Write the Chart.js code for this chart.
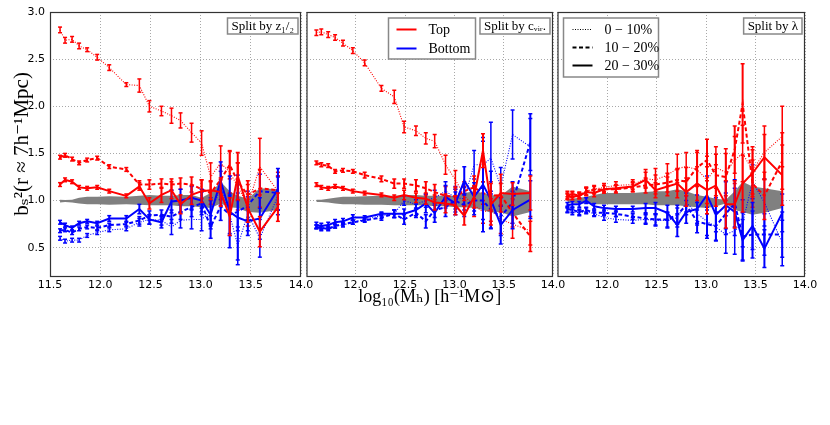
<!DOCTYPE html>
<html>
<head>
<meta charset="utf-8">
<script src="https://cdn.jsdelivr.net/npm/chart.js@4.4.0/dist/chart.umd.min.js"></script>
<style>
body { margin: 0; background: #fff; width: 830px; height: 425px; position: relative; overflow: hidden; }
canvas { position: absolute; top: 0; }
</style>
</head>
<body>
<canvas id="panel-half" width="320" height="320" style="left:0px"></canvas>
<canvas id="panel-cvir" width="273" height="320" style="left:301px"></canvas>
<canvas id="panel-spin" width="278" height="320" style="left:552px"></canvas>
<script>
// halo mass bins, log10(Mh)
const massBins = [11.60, 11.65, 11.72, 11.79, 11.87, 11.97, 12.09, 12.26, 12.39, 12.49, 12.61, 12.71, 12.80, 12.91, 13.01, 13.10, 13.20, 13.29, 13.37, 13.47, 13.59, 13.77];
const xTicks = [11.5, 12.0, 12.5, 13.0, 13.5, 14.0];
const yTicks = [0.5, 1.0, 1.5, 2.0, 2.5, 3.0];

// split by z1/2
const halfTop10 = [2.81, 2.70, 2.71, 2.64, 2.60, 2.52, 2.41, 2.23, 2.22, 2.00, 1.95, 1.90, 1.85, 1.72, 1.61, 1.25, 1.40, 1.30, 1.15, 0.95, 1.36, 1.10];
const halfTop10Err = [0.03, 0.03, 0.03, 0.03, 0.02, 0.03, 0.03, 0.02, 0.07, 0.06, 0.05, 0.08, 0.08, 0.10, 0.13, 0.15, 0.18, 0.22, 0.25, 0.22, 0.30, 0.20];
const halfTop20 = [1.46, 1.48, 1.44, 1.40, 1.43, 1.45, 1.36, 1.33, 1.17, 1.17, 1.18, 1.17, 1.18, 1.17, 1.12, 1.08, 1.22, 1.38, 1.20, 1.06, 1.13, 1.11];
const halfTop20Err = [0.02, 0.02, 0.02, 0.02, 0.02, 0.02, 0.02, 0.02, 0.04, 0.05, 0.05, 0.06, 0.06, 0.08, 0.10, 0.12, 0.15, 0.15, 0.20, 0.15, 0.20, 0.15];
const halfTop30 = [1.17, 1.22, 1.20, 1.14, 1.13, 1.14, 1.10, 1.05, 1.15, 0.97, 1.06, 1.11, 0.96, 1.06, 1.10, 1.11, 1.09, 0.83, 1.26, 0.92, 0.67, 0.93];
const halfTop30Err = [0.02, 0.02, 0.02, 0.02, 0.02, 0.02, 0.02, 0.02, 0.04, 0.06, 0.08, 0.09, 0.10, 0.10, 0.12, 0.10, 0.15, 0.20, 0.25, 0.15, 0.16, 0.15];
const halfBot10 = [0.60, 0.57, 0.58, 0.58, 0.63, 0.66, 0.69, 0.70, 0.77, 0.80, 0.79, 0.72, 0.79, 0.80, 0.80, 0.88, 1.13, 0.85, 0.52, 0.86, 0.60, 1.05];
const halfBot10Err = [0.02, 0.02, 0.02, 0.02, 0.02, 0.02, 0.02, 0.02, 0.04, 0.05, 0.05, 0.08, 0.08, 0.10, 0.12, 0.15, 0.18, 0.22, 0.20, 0.18, 0.20, 0.20];
const halfBot20 = [0.68, 0.69, 0.66, 0.70, 0.72, 0.71, 0.74, 0.75, 0.79, 0.84, 0.85, 0.83, 0.88, 0.93, 0.97, 0.72, 0.94, 0.85, 0.88, 0.95, 1.10, 1.08];
const halfBot20Err = [0.02, 0.02, 0.02, 0.02, 0.02, 0.02, 0.02, 0.02, 0.04, 0.05, 0.05, 0.07, 0.08, 0.10, 0.12, 0.12, 0.15, 0.20, 0.20, 0.15, 0.18, 0.18];
const halfBot30 = [0.77, 0.74, 0.71, 0.76, 0.78, 0.76, 0.81, 0.81, 0.91, 0.80, 0.77, 0.99, 1.00, 1.03, 1.00, 0.85, 1.21, 0.88, 0.82, 0.78, 0.81, 1.12];
const halfBot30Err = [0.02, 0.02, 0.02, 0.02, 0.02, 0.02, 0.03, 0.03, 0.05, 0.05, 0.06, 0.12, 0.12, 0.12, 0.12, 0.15, 0.20, 0.38, 0.45, 0.15, 0.22, 0.22];
const halfBandLo = [0.98, 0.985, 0.98, 0.97, 0.96, 0.96, 0.955, 0.96, 0.955, 0.95, 0.95, 0.95, 0.94, 0.94, 0.93, 0.92, 0.97, 0.93, 0.92, 0.88, 0.87, 0.90];
const halfBandHi = [1.01, 1.005, 1.01, 1.03, 1.04, 1.04, 1.045, 1.04, 1.05, 1.06, 1.05, 1.05, 1.06, 1.06, 1.03, 1.08, 1.20, 1.10, 1.05, 1.02, 1.13, 1.12];

// split by c_vir
const cvirTop10 = [2.78, 2.79, 2.76, 2.73, 2.67, 2.59, 2.46, 2.19, 2.10, 1.78, 1.74, 1.66, 1.63, 1.38, 1.22, 1.05, 0.95, 0.88, 0.90, 0.80, 0.75, 0.68];
const cvirTop10Err = [0.03, 0.03, 0.03, 0.03, 0.03, 0.03, 0.03, 0.03, 0.07, 0.06, 0.05, 0.06, 0.07, 0.10, 0.10, 0.10, 0.12, 0.12, 0.12, 0.15, 0.15, 0.15];
const cvirTop20 = [1.40, 1.38, 1.37, 1.31, 1.32, 1.31, 1.27, 1.23, 1.18, 1.18, 1.16, 1.13, 1.09, 1.05, 1.04, 1.10, 1.14, 1.08, 1.05, 1.06, 0.87, 0.62];
const cvirTop20Err = [0.02, 0.02, 0.02, 0.02, 0.02, 0.02, 0.03, 0.03, 0.05, 0.05, 0.06, 0.07, 0.08, 0.10, 0.10, 0.10, 0.12, 0.12, 0.15, 0.12, 0.15, 0.16];
const cvirTop30 = [1.17, 1.14, 1.13, 1.15, 1.13, 1.10, 1.08, 1.06, 1.03, 1.06, 1.03, 1.02, 0.98, 0.97, 0.95, 0.84, 1.04, 1.53, 0.96, 1.08, 1.07, 1.08];
const cvirTop30Err = [0.02, 0.02, 0.02, 0.02, 0.02, 0.02, 0.02, 0.02, 0.03, 0.05, 0.05, 0.06, 0.08, 0.10, 0.10, 0.10, 0.12, 0.18, 0.22, 0.20, 0.12, 0.18];
const cvirBot10 = [0.72, 0.70, 0.71, 0.73, 0.74, 0.77, 0.80, 0.84, 0.86, 1.00, 0.96, 1.00, 1.03, 1.10, 1.03, 1.02, 1.38, 1.38, 1.45, 1.15, 1.70, 1.57];
const cvirBot10Err = [0.02, 0.02, 0.02, 0.02, 0.02, 0.02, 0.02, 0.03, 0.04, 0.05, 0.05, 0.07, 0.08, 0.10, 0.12, 0.12, 0.15, 0.25, 0.38, 0.20, 0.26, 0.30];
const cvirBot20 = [0.72, 0.71, 0.70, 0.73, 0.75, 0.77, 0.79, 0.82, 0.86, 0.80, 0.87, 0.78, 0.90, 0.93, 1.00, 0.95, 1.00, 1.00, 0.90, 0.83, 0.98, 1.62];
const cvirBot20Err = [0.02, 0.02, 0.02, 0.02, 0.02, 0.02, 0.02, 0.03, 0.04, 0.05, 0.05, 0.07, 0.08, 0.10, 0.12, 0.12, 0.15, 0.20, 0.20, 0.20, 0.22, 0.30];
const cvirBot30 = [0.74, 0.73, 0.74, 0.77, 0.78, 0.82, 0.82, 0.86, 0.86, 0.86, 0.90, 0.97, 0.87, 1.04, 0.97, 1.21, 1.04, 1.17, 1.01, 0.74, 0.90, 1.01];
const cvirBot30Err = [0.03, 0.03, 0.03, 0.03, 0.03, 0.03, 0.02, 0.02, 0.04, 0.05, 0.06, 0.10, 0.10, 0.12, 0.12, 0.15, 0.15, 0.50, 0.30, 0.20, 0.20, 0.20];
const cvirBandLo = [0.985, 0.985, 0.98, 0.97, 0.96, 0.96, 0.955, 0.955, 0.95, 0.95, 0.95, 0.95, 0.94, 0.94, 0.93, 0.93, 0.92, 0.90, 0.87, 0.88, 0.83, 0.88];
const cvirBandHi = [1.01, 1.01, 1.02, 1.03, 1.04, 1.04, 1.045, 1.05, 1.05, 1.06, 1.06, 1.05, 1.05, 1.05, 1.05, 1.08, 1.10, 1.08, 1.06, 1.05, 1.15, 1.10];

// split by lambda
const spinTop10 = [1.07, 1.06, 1.06, 1.10, 1.12, 1.14, 1.16, 1.17, 1.23, 1.22, 1.27, 1.34, 1.36, 1.33, 1.22, 1.35, 1.30, 1.43, 1.50, 1.32, 1.51, 1.68];
const spinTop10Err = [0.03, 0.03, 0.03, 0.04, 0.04, 0.04, 0.04, 0.05, 0.10, 0.12, 0.12, 0.15, 0.15, 0.18, 0.25, 0.22, 0.25, 0.25, 0.30, 0.25, 0.28, 0.32];
const spinTop20 = [1.05, 1.07, 1.05, 1.10, 1.11, 1.12, 1.12, 1.14, 1.16, 1.17, 1.19, 1.22, 1.20, 1.35, 1.43, 1.27, 1.25, 1.54, 2.03, 1.18, 1.05, 1.42];
const spinTop20Err = [0.03, 0.03, 0.03, 0.04, 0.04, 0.04, 0.04, 0.05, 0.08, 0.10, 0.10, 0.12, 0.15, 0.18, 0.22, 0.22, 0.25, 0.25, 0.42, 0.25, 0.25, 0.30];
const spinTop30 = [1.04, 1.04, 1.05, 1.09, 1.08, 1.12, 1.13, 1.15, 1.22, 1.11, 1.15, 1.18, 1.09, 1.18, 1.11, 1.16, 0.96, 0.96, 1.18, 1.29, 1.46, 1.27];
const spinTop30Err = [0.03, 0.03, 0.03, 0.04, 0.04, 0.04, 0.04, 0.05, 0.08, 0.08, 0.10, 0.15, 0.15, 0.18, 0.25, 0.22, 0.25, 0.25, 0.30, 0.25, 0.24, 0.32];
const spinBot10 = [0.90, 0.88, 0.87, 0.89, 0.86, 0.82, 0.80, 0.79, 0.80, 0.79, 0.79, 0.82, 0.98, 0.86, 0.78, 0.72, 0.64, 0.68, 0.76, 1.20, 0.98, 0.55];
const spinBot10Err = [0.03, 0.03, 0.03, 0.03, 0.03, 0.03, 0.03, 0.03, 0.05, 0.06, 0.08, 0.10, 0.10, 0.12, 0.15, 0.15, 0.20, 0.25, 0.25, 0.18, 0.25, 0.24];
const spinBot20 = [0.91, 0.90, 0.88, 0.90, 0.87, 0.87, 0.86, 0.83, 0.81, 0.80, 0.80, 0.85, 0.95, 0.78, 0.75, 0.73, 0.86, 0.97, 0.62, 0.64, 0.64, 0.64];
const spinBot20Err = [0.03, 0.03, 0.03, 0.03, 0.03, 0.03, 0.03, 0.03, 0.05, 0.06, 0.08, 0.10, 0.10, 0.12, 0.15, 0.15, 0.22, 0.25, 0.25, 0.25, 0.22, 0.24];
const spinBot30 = [0.95, 0.96, 0.96, 1.00, 0.94, 0.92, 0.91, 0.91, 0.92, 0.92, 0.87, 0.74, 0.88, 0.91, 1.06, 0.85, 0.95, 0.88, 0.58, 0.73, 0.49, 0.87];
const spinBot30Err = [0.03, 0.03, 0.03, 0.03, 0.03, 0.03, 0.03, 0.03, 0.05, 0.06, 0.08, 0.12, 0.12, 0.15, 0.20, 0.18, 0.25, 0.25, 0.22, 0.25, 0.20, 0.20];
const spinBandLo = [0.97, 0.98, 0.97, 0.97, 0.96, 0.96, 0.96, 0.96, 0.96, 0.95, 0.95, 0.95, 0.94, 0.93, 0.92, 0.94, 0.97, 0.90, 0.88, 0.85, 0.87, 0.92];
const spinBandHi = [1.02, 1.02, 1.03, 1.04, 1.06, 1.08, 1.08, 1.08, 1.09, 1.10, 1.10, 1.12, 1.10, 1.06, 1.04, 1.02, 1.01, 1.10, 1.20, 1.15, 1.13, 1.10];

const RED = '#ff0000';
const BLUE = '#0000ff';
const tickFont = { family: 'DejaVu Sans', size: 11 };
const serif = '"Liberation Serif", "DejaVu Serif", serif';

// line style for the three percentile cuts
const styles = {
    p10: { width: 1.1, dash: [1, 1.5], errWidth: 1.5 },
    p20: { width: 2, dash: [4, 2.5], errWidth: 2 },
    p30: { width: 2, dash: [], errWidth: 2 }
};

function points(vals) {
    return massBins.map((m, i) => ({ x: m, y: vals[i] }));
}

// each error bar is a short vertical segment, null breaks the line
function errorBars(vals, errs) {
    let pts = [];
    massBins.forEach((m, i) => {
        pts.push({ x: m, y: vals[i] - errs[i] });
        pts.push({ x: m, y: vals[i] + errs[i] });
        pts.push({ x: m, y: null });
    });
    return pts;
}

function seriesSets(vals, errs, color, cut) {
    const st = styles[cut];
    return [{
        data: points(vals),
        borderColor: color,
        borderWidth: st.width,
        borderDash: st.dash,
        pointRadius: 0,
        fill: false,
        tension: 0
    }, {
        data: errorBars(vals, errs),
        borderColor: color,
        borderWidth: st.errWidth,
        spanGaps: false,
        pointStyle: 'line',
        pointRadius: 2,
        pointBorderWidth: 1.5,
        pointBorderColor: color,
        fill: false
    }];
}

const panelDecor = {
    id: 'panelDecor',
    afterDraw(chart, args, opts) {
        const { ctx, chartArea } = chart;
        ctx.save();
        // axes frame
        ctx.strokeStyle = '#333';
        ctx.lineWidth = 1.2;
        ctx.strokeRect(chartArea.left + 0.5, chartArea.top + 0.5, chartArea.right - chartArea.left - 1, chartArea.bottom - chartArea.top);

        // "Split by" tag in the top right corner
        ctx.font = '13px ' + serif;
        const w = ctx.measureText(opts.tag).width + 8;
        const x = chartArea.right - 3 - w;
        const y = chartArea.top + 6;
        ctx.fillStyle = '#fff';
        ctx.fillRect(x, y, w, 16);
        ctx.strokeStyle = '#888';
        ctx.lineWidth = 1.5;
        ctx.strokeRect(x, y, w, 16);
        ctx.fillStyle = '#000';
        ctx.textBaseline = 'middle';
        ctx.fillText(opts.tag, x + 4, y + 8.5);

        if (opts.legend) {
            const lg = opts.legend;
            const lx = chartArea.left + lg.x;
            const ly = chartArea.top + 6;
            ctx.fillStyle = '#fff';
            ctx.fillRect(lx, ly, lg.w, lg.h);
            ctx.strokeStyle = '#888';
            ctx.lineWidth = 1.5;
            ctx.strokeRect(lx, ly, lg.w, lg.h);
            ctx.font = '14px ' + serif;
            lg.rows.forEach((r, i) => {
                const ry = ly + 11.5 + i * lg.gap;
                ctx.strokeStyle = r.color;
                ctx.lineWidth = r.width;
                ctx.setLineDash(r.dash);
                ctx.beginPath();
                ctx.moveTo(lx + lg.sample, ry);
                ctx.lineTo(lx + lg.sample + 20, ry);
                ctx.stroke();
                ctx.setLineDash([]);
                ctx.fillStyle = '#000';
                ctx.fillText(r.label, lx + lg.text, ry + 1);
            });
        }
        ctx.restore();
    }
};

function makePanel(id, sets, bandLo, bandHi, cfg) {
    let datasets = [];
    sets.forEach((s) => {
        datasets = datasets.concat(seriesSets(s[0], s[1], s[2], s[3]));
    });
    datasets.push({ data: points(bandHi), borderWidth: 0, pointRadius: 0, fill: '+1', backgroundColor: '#808080' });
    datasets.push({ data: points(bandLo), borderWidth: 0, pointRadius: 0, fill: false });

    new Chart(document.getElementById(id), {
        type: 'line',
        data: { datasets: datasets },
        options: {
            responsive: false,
            animation: false,
            layout: { padding: { top: 12, left: 0, right: cfg.padRight, bottom: 0 } },
            scales: {
                x: {
                    type: 'linear',
                    min: 11.5,
                    max: 14.0,
                    afterBuildTicks: (s) => { s.ticks = xTicks.map((v) => ({ value: v })); },
                    afterFit: (s) => { s.height = 44; s.paddingLeft = 0; s.paddingRight = 0; },
                    grid: { color: '#a8a8a8', drawTicks: false },
                    border: { display: false, dash: [1, 2] },
                    ticks: {
                        font: tickFont,
                        color: '#000',
                        padding: 3,
                        maxRotation: 0,
                        autoSkip: false,
                        callback: (v) => (cfg.hideFirst && v === 11.5) ? '' : v.toFixed(1)
                    },
                    title: cfg.xTitle ? {
                        display: true,
                        text: 'log₁₀(Mₕ) [h⁻¹M⊙]',
                        font: { family: serif, size: 18 },
                        color: '#000',
                        padding: { top: 0, bottom: 12 }
                    } : { display: false }
                },
                y: {
                    type: 'linear',
                    min: 0.2,
                    max: 3.0,
                    afterBuildTicks: (s) => { s.ticks = yTicks.map((v) => ({ value: v })); },
                    afterFit: (s) => { s.width = cfg.yWidth; s.paddingTop = 0; s.paddingBottom = 0; },
                    grid: { color: '#a8a8a8', drawTicks: false },
                    border: { display: false, dash: [1, 2] },
                    ticks: {
                        display: cfg.yLabels,
                        font: tickFont,
                        color: '#000',
                        padding: 5,
                        callback: (v) => v.toFixed(1)
                    },
                    title: cfg.yLabels ? {
                        display: true,
                        text: 'bₛ²(r ≈ 7h⁻¹Mpc)',
                        font: { family: serif, size: 21 },
                        color: '#000',
                        padding: { top: 10, bottom: 0 }
                    } : { display: false }
                }
            },
            plugins: {
                legend: { display: false },
                tooltip: { enabled: false },
                panelDecor: { tag: cfg.tag, legend: cfg.legend }
            }
        },
        plugins: [panelDecor]
    });
}

makePanel('panel-half', [
    [halfTop30, halfTop30Err, RED, 'p30'], [halfBot30, halfBot30Err, BLUE, 'p30'],
    [halfTop20, halfTop20Err, RED, 'p20'], [halfBot20, halfBot20Err, BLUE, 'p20'],
    [halfTop10, halfTop10Err, RED, 'p10'], [halfBot10, halfBot10Err, BLUE, 'p10']
], halfBandLo, halfBandHi, { padRight: 19, yWidth: 50, yLabels: true, hideFirst: false, xTitle: false, tag: 'Split by z₁/₂' });

makePanel('panel-cvir', [
    [cvirTop30, cvirTop30Err, RED, 'p30'], [cvirBot30, cvirBot30Err, BLUE, 'p30'],
    [cvirTop20, cvirTop20Err, RED, 'p20'], [cvirBot20, cvirBot20Err, BLUE, 'p20'],
    [cvirTop10, cvirTop10Err, RED, 'p10'], [cvirBot10, cvirBot10Err, BLUE, 'p10']
], cvirBandLo, cvirBandHi, {
    padRight: 21, yWidth: 1, yLabels: false, hideFirst: true, xTitle: true, tag: 'Split by cᵥᵢᵣ.',
    legend: { x: 82, w: 87, h: 41, gap: 19, sample: 8, text: 40, rows: [
        { label: 'Top', color: RED, width: 2, dash: [] },
        { label: 'Bottom', color: BLUE, width: 2, dash: [] }
    ] }
});

makePanel('panel-spin', [
    [spinTop30, spinTop30Err, RED, 'p30'], [spinBot30, spinBot30Err, BLUE, 'p30'],
    [spinTop20, spinTop20Err, RED, 'p20'], [spinBot20, spinBot20Err, BLUE, 'p20'],
    [spinTop10, spinTop10Err, RED, 'p10'], [spinBot10, spinBot10Err, BLUE, 'p10']
], spinBandLo, spinBandHi, {
    padRight: 25, yWidth: 1, yLabels: false, hideFirst: true, xTitle: false, tag: 'Split by λ',
    legend: { x: 6, w: 95, h: 59, gap: 18, sample: 9, text: 41, rows: [
        { label: '0 − 10%', color: '#000', width: 1, dash: [1, 1.5] },
        { label: '10 − 20%', color: '#000', width: 2, dash: [4, 2.5] },
        { label: '20 − 30%', color: '#000', width: 2, dash: [] }
    ] }
});
</script>
</body>
</html>
